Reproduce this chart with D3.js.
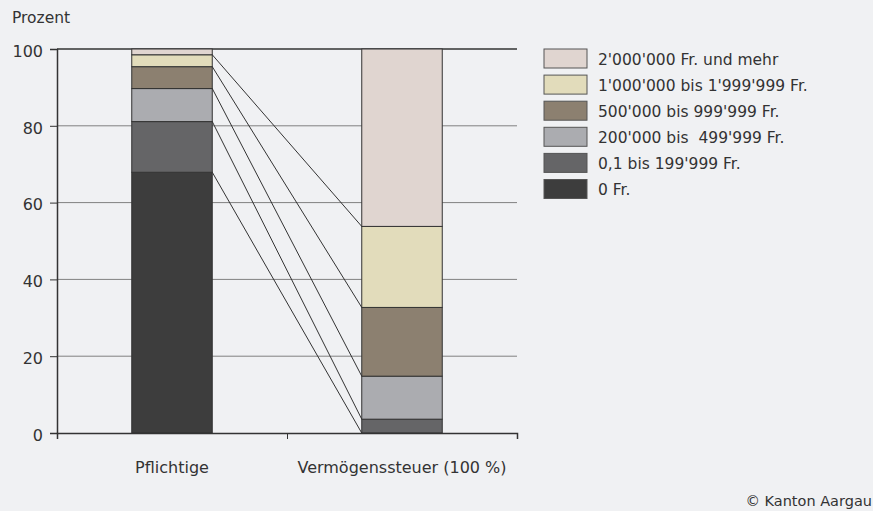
<!DOCTYPE html>
<html>
<head>
<meta charset="utf-8">
<script src="https://cdn.jsdelivr.net/npm/d3@7"></script>
<style>
  html, body { margin: 0; padding: 0; background: #f0f1f3; }
  svg { display: block; font-family: "DejaVu Sans", sans-serif; }
  text { fill: #333; white-space: pre; }
</style>
</head>
<body>
<svg id="chart" width="873" height="511"></svg>
<script>
'use strict';

// Kategorien (x-Achse)
var categories = ['Pflichtige', 'Vermögenssteuer (100 %)'];

// Vermögensklassen, von unten nach oben
var classes = ['0 Fr.', '0,1 bis 199\'999 Fr.', '200\'000 bis  499\'999 Fr.',
  '500\'000 bis 999\'999 Fr.', '1\'000\'000 bis 1\'999\'999 Fr.', '2\'000\'000 Fr. und mehr'];
var colors = ['#3d3d3d', '#656567', '#abacb0', '#8c8070', '#e2dcbb', '#e0d5d0'];

// Anteile in Prozent
var pflichtige = [67.9, 13.2, 8.6, 5.7, 3.1, 1.5];
var steuer = [0, 3.6, 11.2, 17.9, 21.1, 46.2];

var yTicks = [0, 20, 40, 60, 80, 100];

var svg = d3.select('#chart');
var margin = { left: 57, right: 356, top: 49, bottom: 78 };
var width = 873, height = 511;

var x = d3.scaleBand().domain(categories)
  .range([margin.left, width - margin.right])
  .paddingInner(0.65).paddingOuter(0.325);
var y = d3.scaleLinear().domain([0, 100]).range([height - margin.bottom, margin.top]);

// Daten stapeln
var rows = categories.map(function(c, j) {
  var row = { cat: c };
  classes.forEach(function(k, i) { row[k] = (j === 0 ? pflichtige : steuer)[i]; });
  return row;
});
var stacked = d3.stack().keys(classes)(rows);

// Gitterlinien
svg.append('g').selectAll('line').data(yTicks.filter(function(t) { return t > 0 && t < 100; }))
  .enter().append('line')
  .attr('x1', margin.left).attr('x2', width - margin.right)
  .attr('y1', function(d) { return y(d); }).attr('y2', function(d) { return y(d); })
  .attr('stroke', '#808080').attr('stroke-width', 1);

// obere Linie (100)
svg.append('line')
  .attr('x1', margin.left).attr('x2', width - margin.right)
  .attr('y1', y(100)).attr('y2', y(100))
  .attr('stroke', '#333').attr('stroke-width', 1.5);

// Balken
var layers = svg.append('g').selectAll('g').data(stacked).enter().append('g')
  .attr('fill', function(d, i) { return colors[i]; });
layers.selectAll('rect').data(function(d) { return d; }).enter().append('rect')
  .attr('x', function(d) { return x(d.data.cat); })
  .attr('width', x.bandwidth())
  .attr('y', function(d) { return y(d[1]); })
  .attr('height', function(d) { return y(d[0]) - y(d[1]); })
  .attr('stroke', '#333').attr('stroke-width', 1);

// Verbindungslinien
var xl = x(categories[0]) + x.bandwidth();
var xr = x(categories[1]);
svg.append('g').selectAll('line').data(stacked.slice(0, classes.length - 1))
  .enter().append('line')
  .attr('x1', xl).attr('x2', xr)
  .attr('y1', function(d) { return y(d[0][1]); })
  .attr('y2', function(d) { return y(d[1][1]); })
  .attr('stroke', '#333').attr('stroke-width', 1);

// y-Achse
var yAxis = svg.append('g').attr('transform', 'translate(' + margin.left + ',0)')
  .call(d3.axisLeft(y).tickValues(yTicks).tickSize(7).tickPadding(7));
yAxis.select('.domain').attr('stroke', '#333').attr('stroke-width', 1.5);
yAxis.selectAll('.tick line').attr('stroke', '#333');
yAxis.selectAll('.tick text').attr('font-size', 16).attr('fill', '#333')
  .attr('font-family', 'DejaVu Sans').attr('dy', '0.45em');

// x-Achse
var xAxisScale = d3.scaleLinear().domain([0, 2]).range([margin.left, width - margin.right]);
var xAxis = svg.append('g').attr('transform', 'translate(0,' + y(0) + ')')
  .call(d3.axisBottom(xAxisScale).tickValues([0, 1, 2]).tickSize(6).tickFormat(''));
xAxis.select('.domain').attr('stroke', '#333').attr('stroke-width', 1.5);
xAxis.selectAll('.tick line').attr('stroke', '#333');

svg.append('g').selectAll('text').data(categories).enter().append('text')
  .attr('x', function(d) { return x(d) + x.bandwidth() / 2; })
  .attr('y', 473)
  .attr('text-anchor', 'middle')
  .attr('font-size', 16)
  .text(function(d) { return d; });

svg.append('text').attr('x', 12).attr('y', 23).attr('font-size', 15.5).text('Prozent');

// Legende
var legend = svg.append('g').selectAll('g').data(classes.slice().reverse()).enter().append('g')
  .attr('transform', function(d, i) { return 'translate(544,' + (49 + i * 26.1) + ')'; });
legend.append('rect').attr('width', 43).attr('height', 19)
  .attr('fill', function(d) { return colors[classes.indexOf(d)]; })
  .attr('stroke', '#555').attr('stroke-width', 1);
legend.append('text').attr('x', 54).attr('y', 15.5).attr('font-size', 15.5)
  .text(function(d) { return d; });

svg.append('text').attr('x', 872).attr('y', 506).attr('text-anchor', 'end')
  .attr('font-size', 14.5).text('© Kanton Aargau');
</script>
</body>
</html>
